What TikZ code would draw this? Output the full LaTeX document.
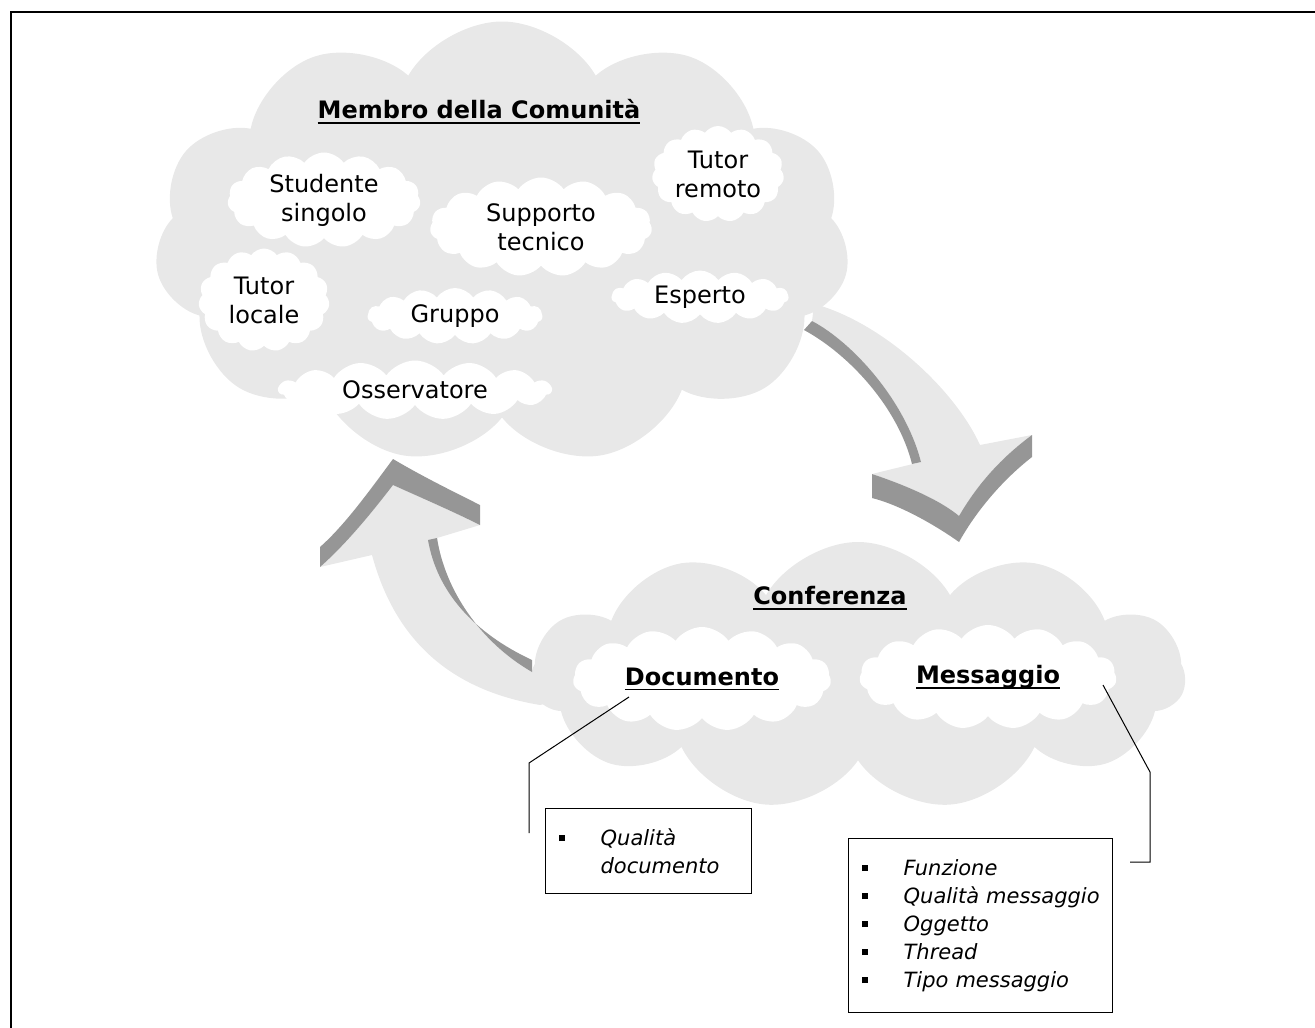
\documentclass[tikz,border=0pt]{standalone}
\usepackage{fontspec}
\setmainfont{DejaVu Sans}
\usetikzlibrary{shapes.symbols,positioning}
\definecolor{cloudgray}{RGB}{232,232,232}
\definecolor{sidegray}{RGB}{150,150,150}
\tikzset{
    bigcloud/.style={cloud,cloud puffs=11,cloud puff arc=120,cloud ignores aspect,fill=cloudgray,inner sep=0pt},
    smallcloud/.style={cloud,cloud puffs=15,cloud puff arc=110,cloud ignores aspect,fill=white,align=center,inner sep=0pt,font=\fontsize{12}{14.5}\selectfont},
    title/.style={font=\fontsize{12}{14.5}\selectfont\bfseries},
    arrowface/.style={fill=cloudgray},
    arrowside/.style={fill=sidegray},
    pin/.style={line width=0.5pt},
    listbox/.style={draw,line width=0.65pt,anchor=north west,inner xsep=6.5pt,align=left,font=\fontsize{10.5}{14}\selectfont\itshape}
}
\newcommand{\itembullet}{\makebox[21pt][l]{\raisebox{2.2pt}{\rule{3.2pt}{3.2pt}}}}
\newcommand{\titleul}[1]{\setbox0\hbox{#1}\rlap{\rule[-2.6pt]{\wd0}{0.9pt}}\box0}

\begin{document}
\begin{tikzpicture}[x=0.5pt,y=-0.5pt]
\useasboundingbox (0,0) rectangle (1315,1027);
\draw[line width=1pt] (10.5,12.5) rectangle (1330,1040);

\node[bigcloud,minimum width=347.5pt,minimum height=221.5pt] (membro) at (502,243) {};
\node[bigcloud,minimum width=327pt,minimum height=134pt] (conf) at (858,676) {};

% arrow from membro to conferenza
\fill[arrowface] (815,298) -- (812,321) .. controls (852,342) and (905,400) .. (921,462)
    -- (872,474) .. controls (905,485) and (940,500) .. (959,516)
    .. controls (980,480) and (1005,455) .. (1032,435) -- (980,445)
    .. controls (955,390) and (885,325) .. (818,305) -- cycle;
\fill[arrowside] (804,330) .. controls (850,355) and (898,408) .. (912,464) -- (921,462)
    .. controls (905,400) and (852,342) .. (812,321) -- cycle;
\fill[arrowside] (872,474) .. controls (905,485) and (940,500) .. (959,516) -- (959,542)
    .. controls (935,525) and (900,505) .. (872,498) -- cycle;
\fill[arrowside] (1032,435) -- (1032,457) .. controls (1005,478) and (978,508) .. (959,542)
    -- (959,516) .. controls (980,480) and (1005,455) .. (1032,435) -- cycle;

% arrow from conferenza to membro
\fill[arrowface] (320,567) -- (372,555) .. controls (395,640) and (450,690) .. (540,705)
    -- (560,700) -- (560,672) -- (532,672) .. controls (480,642) and (445,590) .. (437,538)
    -- (480,525) .. controls (450,510) and (415,495) .. (393,485)
    .. controls (370,515) and (345,545) .. (320,567) -- cycle;
\fill[arrowside] (428,540) .. controls (437,592) and (474,633) .. (532,660) -- (532,672)
    .. controls (480,642) and (445,590) .. (437,538) -- cycle;
\fill[arrowside] (320,567) -- (320,547) .. controls (345,525) and (370,490) .. (393,459)
    -- (393,485) .. controls (370,515) and (345,545) .. (320,567) -- cycle;
\fill[arrowside] (393,459) .. controls (420,475) and (450,490) .. (480,505) -- (480,525)
    .. controls (450,510) and (415,495) .. (393,485) -- cycle;

\node[smallcloud,minimum width=96.5pt,minimum height=47.5pt] (studente) at (324,200) {Studente\\singolo};
\node[smallcloud,minimum width=111pt,minimum height=49.5pt] (supporto) at (541,227) {Supporto\\tecnico};
\node[smallcloud,minimum width=66pt,minimum height=48pt] (tremoto) at (718,174) {Tutor\\remoto};
\node[smallcloud,minimum width=65.5pt,minimum height=51.5pt] (tlocale) at (264,300) {Tutor\\locale};
\node[smallcloud,minimum width=87.5pt,minimum height=28pt] (gruppo) at (455,316) {Gruppo};
\node[smallcloud,minimum width=88.5pt,minimum height=26.5pt] (esperto) at (700,297) {Esperto};
\node[smallcloud,minimum width=136.5pt,minimum height=29.5pt] (osserv) at (415,390) {Osservatore};
\node[smallcloud,title,minimum width=129pt,minimum height=52pt] (doc) at (702,679) {\titleul{Documento}};
\node[smallcloud,title,minimum width=128.5pt,minimum height=52pt] (mess) at (988,677) {\titleul{Messaggio}};

\node[title] (membrotitle) at (479,112) {\titleul{Membro della Comunità}};
\node[title] (conftitle) at (830,598) {\titleul{Conferenza}};

\node[listbox,text width=90pt,minimum height=42.5pt] (docbox) at (545,808)
    {\itembullet Qualità\\\hspace*{21pt}documento};
\node[listbox,text width=119pt,minimum height=87pt] (messbox) at (848,838)
    {\itembullet Funzione\\\itembullet Qualità messaggio\\\itembullet Oggetto\\\itembullet Thread\\\itembullet Tipo messaggio};

\coordinate (docpin) at (629,697);
\coordinate (docknee) at (529,763);
\coordinate (docfoot) at (529,833);
\coordinate (messpin) at (1103,685);
\coordinate (messknee) at (1150,772);
\coordinate (messfoot) at (1150,862);
\coordinate (messend) at (1130,862);
\draw[pin] (docpin) -- (docknee) -- (docfoot);
\draw[pin] (messpin) -- (messknee) -- (messfoot) -- (messend);

\end{tikzpicture}
\end{document}
